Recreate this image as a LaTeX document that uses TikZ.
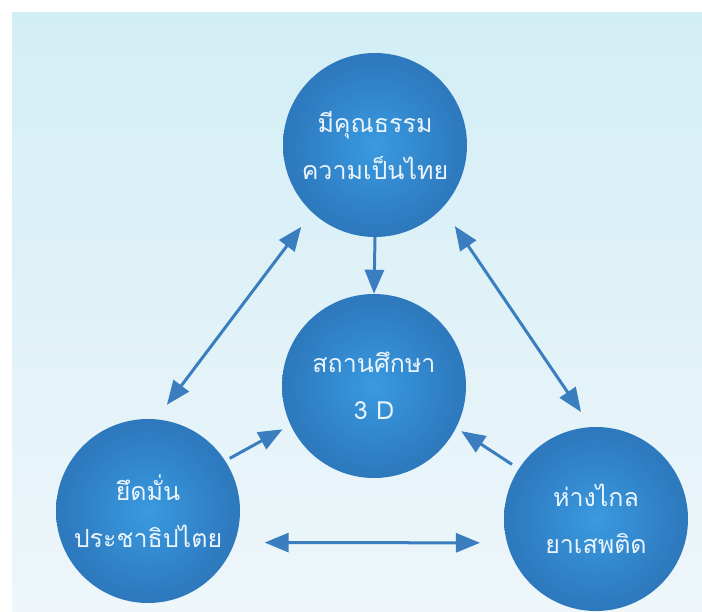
\documentclass[tikz,border=0pt]{standalone}
\usepackage{fontspec}
\newfontfamily\thaifont[Script=Thai]{Loma}
\usetikzlibrary{arrows.meta}

\definecolor{bgtop}{HTML}{D2EEF5}
\definecolor{bgbottom}{HTML}{EEF6FA}
\definecolor{glowin}{HTML}{3A9AE0}
\definecolor{glowmid}{HTML}{2E7BC0}
\definecolor{glowout}{HTML}{2966A6}
\definecolor{linkblue}{HTML}{3A7EC0}
\definecolor{balltext}{HTML}{EAF4FC}

\pgfdeclareradialshading{glow}{\pgfpoint{0bp}{0bp}}{color(0bp)=(glowin); color(22bp)=(glowmid); color(50bp)=(glowout)}

\tikzset{
	ball/.style={circle, minimum size=184pt, inner sep=0pt, shading=glow,
		text=balltext, align=center, font=\thaifont\fontsize{25}{47}\selectfont},
	link/.style={line width=3pt, draw=linkblue, -{Triangle[length=24pt, width=19pt]}},
	twoway/.style={link, {Triangle[length=24pt, width=19pt]}-{Triangle[length=24pt, width=19pt]}}
}

\begin{document}
\begin{tikzpicture}[x=1pt, y=-1pt]

\useasboundingbox (0, 0) rectangle (702, 611);
\fill[top color=bgtop, bottom color=bgbottom] (12, 12) rectangle (702, 611);

\node[ball] (virtue) at (375, 145) {มีคุณธรรม\\ความเป็นไทย};
\node[ball] (school) at (374, 386) {สถานศึกษา\\3 D};
\node[ball] (democracy) at (148, 511) {ยึดมั่น\\ประชาธิปไตย};
\node[ball] (drugfree) at (596, 519) {ห่างไกล\\ยาเสพติด};

\draw[link] (virtue.south) -- (school.north);
\draw[link, shorten <=5pt, shorten >=9pt] (democracy.33) -- (school.205);
\draw[link, shorten <=8pt, shorten >=6pt] (drugfree.147) -- (school.333);

\draw[twoway, shorten <=18pt, shorten >=18pt] (virtue.227) -- (democracy.85);
\draw[twoway, shorten <=22pt, shorten >=18pt] (virtue.317) -- (drugfree.93);
\draw[twoway, shorten <=30pt, shorten >=27pt] (democracy.-20) -- (drugfree.195);

\end{tikzpicture}
\end{document}
